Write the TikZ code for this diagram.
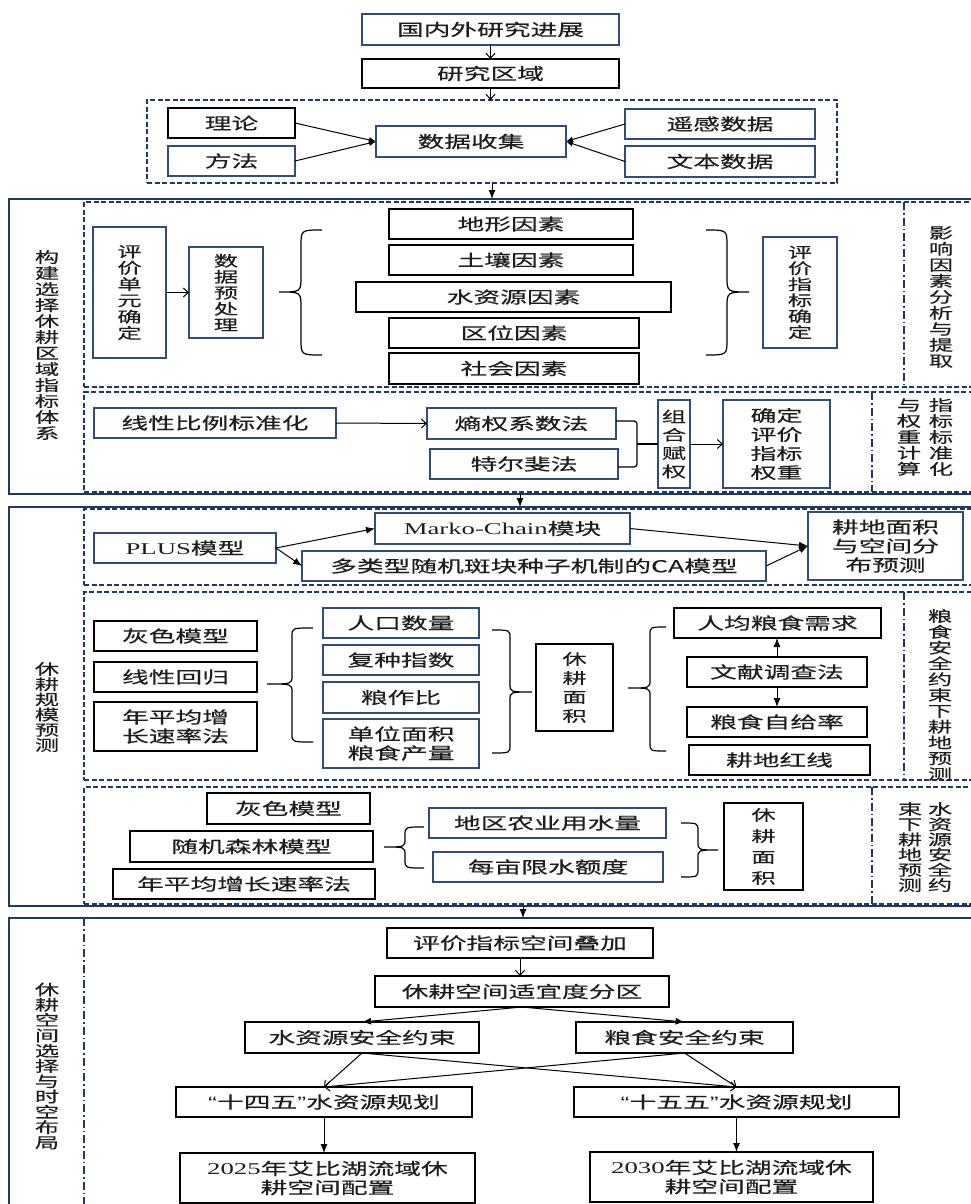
\documentclass[tikz,border=0pt]{standalone}
\usepackage{fontspec}
\setmainfont{Noto Sans CJK SC}[FakeStretch=1.62, FakeBold=0.35]
\newfontfamily\serifx{Liberation Serif}[FakeStretch=1.62]
\newfontfamily\sansx{Liberation Sans}[FakeStretch=1.62]
\usetikzlibrary{arrows.meta}
\definecolor{navy}{RGB}{31,56,100}
\definecolor{boxblue}{RGB}{50,76,122}
\definecolor{txt}{RGB}{30,30,30}
\newcommand\hf{\fontsize{16.5}{19}\selectfont}
\newcommand\vf[1]{\fontsize{15}{#1}\selectfont}
\newcommand\bx[7][kb]{\node[#1, minimum width={(#5-#3)*1pt}, minimum height={(#6-#4)*1pt}] (#2) at ({(#3+#5)/2},{(#4+#6)/2}) {#7};}
\newcommand\Brc[7]{\draw[brc] (#3,#4) .. controls (#2,#4) .. (#2,{#4+#7}) -- (#2,{#5-#7}) .. controls (#2,#5) .. (#1,#5) .. controls (#2,#5) .. (#2,{#5+#7}) -- (#2,{#6-#7}) .. controls (#2,#6) .. (#3,#6);}
\tikzset{
 base/.style={draw, line width=1.3pt, inner sep=0pt, outer sep=0pt, align=center, font=\hf, text=txt},
 bb/.style={base, draw=boxblue},
 kb/.style={base, draw=black},
 frm/.style={draw=navy, line width=1.8pt, inner sep=0pt, outer sep=0pt},
 dshbox/.style={draw=navy, line width=1.3pt, dash pattern=on 5pt off 2.5pt, inner sep=0pt, outer sep=0pt},
 ddot/.style={draw=navy, line width=1.3pt, dash pattern=on 8pt off 3pt on 1.5pt off 3pt},
 lbl/.style={inner sep=0pt, align=center, text=txt},
 arr/.style={-{Latex[length=9pt,width=7pt]}, line width=1pt},
 sarr/.style={-{Latex[length=7pt,width=6pt]}, line width=1pt},
 oarr/.style={-{Straight Barb[length=5pt,width=9pt]}, line width=1pt},
 brc/.style={line width=1.2pt, draw=black},
}
\begin{document}
\begin{tikzpicture}[x=1pt,y=-1pt]
\useasboundingbox (0,0) rectangle (971,1204);
\clip (0,0) rectangle (971,1204);
\fill[white] (0,0) rectangle (971,1204);

% ---------- top ----------
\bx[bb]{n1}{362}{14}{619}{45}{国内外研究进展}
\bx[kb]{n2}{362}{59}{619}{88}{研究区域}
\bx[dshbox]{d0}{147}{100}{837}{183}{}
\bx[kb]{ll}{168}{108}{295}{138}{理论}
\bx[bb]{ff}{168}{146}{295}{176}{方法}
\bx[bb]{sj}{376}{126}{566}{157}{数据收集}
\bx[bb]{yg}{625}{109}{815}{139}{遥感数据}
\bx[bb]{wb}{625}{146}{815}{177}{文本数据}
\draw[oarr] (n1) -- (n2);
\draw[oarr] (n2.south) -- (n2.south |- d0.north);
\draw[sarr] (ll.east) -- (sj.west);
\draw[sarr] (ff.east) -- (sj.west);
\draw[sarr] (yg.west) -- (sj.east);
\draw[sarr] (wb.west) -- (sj.east);

% ---------- section 1 ----------
\bx[frm]{f1}{9}{199}{985}{494}{}
\bx[dshbox]{s1a}{84}{202}{985}{387}{}
\bx[dshbox]{s1b}{84}{392}{985}{492}{}
\draw[ddot] (904,202) -- (904,387);
\draw[ddot] (872,392) -- (872,492);
\draw[arr] (d0.south) -- (d0.south |- f1.north);
\node[lbl, font=\vf{16}] (lab1) at (47,345) {构\\建\\选\\择\\休\\耕\\区\\域\\指\\标\\体\\系};
\bx[bb,font=\vf{16.3}]{pjdy}{93}{227}{166}{358}{评\\价\\单\\元\\确\\定}
\bx[bb,font=\vf{16}]{sjycl}{189}{247}{263}{338}{数\\据\\预\\处\\理}
\draw[oarr] (pjdy.east) -- (sjycl.west);
\Brc{279}{301}{322}{230}{292}{355}{16}
\bx[kb]{dx}{389}{209}{633}{239}{地形因素}
\bx[kb]{tr}{389}{245}{633}{275}{土壤因素}
\bx[kb]{szy}{356}{282}{671}{312}{水资源因素}
\bx[kb]{qw}{389}{318}{639}{348}{区位因素}
\bx[kb]{sh}{389}{353}{639}{384}{社会因素}
\Brc{749}{727}{706}{230}{292}{355}{16}
\bx[bb,font=\vf{16}]{pjzb}{763}{237}{837}{348}{评\\价\\指\\标\\确\\定}
\node[lbl, font=\vf{16}] (lab1a) at (941,297) {影\\响\\因\\素\\分\\析\\与\\提\\取};

\bx[bb]{xx}{94}{408}{336}{438}{线性比例标准化}
\bx[bb]{sq}{427}{408}{616}{439}{熵权系数法}
\bx[bb]{te}{430}{449}{618}{479}{特尔斐法}
\draw[oarr] (xx.east) -- (sq.west);
\draw[brc, rounded corners=3pt] (sq.east |- 0,421) -- (637,421) -- (637,467) -- (te.east |- 0,467);
\bx[bb,font=\vf{18.3}]{zh}{658}{400}{690}{488}{组\\合\\赋\\权}
\coordinate (bk) at (637,444);
\draw[brc] (bk) -- (zh.west);
\bx[bb,font=\fontsize{16}{19}\selectfont]{qd}{723}{400}{830}{488}{确定\\评价\\指标\\权重}
\draw[oarr] (zh.east) -- (qd.west);
\node[lbl, font=\vf{16}] (lab1b) at (941,437) {指\\标\\标\\准\\化};
\node[lbl, font=\vf{16}] (lab1c) at (909,437) {与\\权\\重\\计\\算};

% ---------- section 2 ----------
\bx[frm]{f2}{9}{507}{985}{906}{}
\bx[dshbox]{s2a}{84}{509}{985}{585}{}
\bx[dshbox]{s2b}{84}{592}{985}{780}{}
\bx[dshbox]{s2c}{84}{787}{985}{904}{}
\draw[ddot] (904,592) -- (904,780);
\draw[ddot] (872,787) -- (872,904);
\coordinate (c12) at (520,494);
\draw[arr] (c12) -- (c12 |- f2.north);
\node[lbl, font=\vf{15.2}] (lab2) at (47,707) {休\\耕\\规\\模\\预\\测};

\bx[bb]{plus}{94}{533}{276}{563}{{\serifx PLUS}模型}
\bx[bb]{mk}{375}{513}{630}{544}{{\serifx Marko-Chain}模块}
\bx[bb]{ca}{302}{551}{766}{581}{多类型随机斑块种子机制的CA模型}
\bx[bb]{gd}{808}{512}{963}{580}{耕地面积\\与空间分\\布预测}
\draw[arr] (plus.east) -- (mk.west);
\draw[arr] (plus.east) -- (ca.west);
\draw[arr] (mk.east) -- (gd.west);
\draw[arr] (ca.east) -- (gd.west);

\bx[kb]{hs1}{94}{621}{257}{651}{灰色模型}
\bx[kb]{xxhg}{94}{662}{257}{692}{线性回归}
\bx[kb]{nzp}{94}{702}{257}{751}{年平均增\\长速率法}
\Brc{267}{292}{313}{628}{684}{742}{8}
\bx[bb]{rk}{323}{608}{479}{638}{人口数量}
\bx[bb]{fz}{323}{645}{479}{675}{复种指数}
\bx[bb]{lzb}{323}{682}{479}{713}{粮作比}
\bx[bb]{dw}{323}{719}{479}{768}{单位面积\\粮食产量}
\Brc{532}{510}{492}{630}{692}{753}{8}
\bx[kb,font=\vf{19}]{xg1}{536}{644}{613}{731}{休\\耕\\面\\积}
\Brc{628}{650}{666}{627}{688}{751}{8}
\bx[kb]{rj}{674}{608}{881}{638}{人均粮食需求}
\bx[kb]{wx}{687}{657}{867}{687}{文献调查法}
\bx[kb]{zg}{687}{707}{867}{737}{粮食自给率}
\bx[kb]{hx}{689}{745}{870}{775}{耕地红线}
\draw[arr] (wx.north) -- (wx.north |- rj.south);
\draw[arr] (wx.south) -- (wx.south |- zg.north);
\node[lbl, font=\vf{15.8}] (lab2b) at (940,695) {粮\\食\\安\\全\\约\\束\\下\\耕\\地\\预\\测};

\bx[kb]{hs2}{207}{793}{370}{824}{灰色模型}
\bx[kb]{sjsl}{130}{831}{373}{862}{随机森林模型}
\bx[kb]{nzp2}{113}{869}{375}{899}{年平均增长速率法}
\Brc{384}{405}{424}{827}{847}{868}{8}
\bx[bb]{ny}{429}{808}{666}{838}{地区农业用水量}
\bx[bb]{mm}{433}{852}{663}{882}{每亩限水额度}
\Brc{718}{698}{681}{823}{850}{877}{8}
\bx[kb,font=\vf{21}]{xg2}{724}{803}{803}{890}{休\\耕\\面\\积}
\node[lbl, font=\vf{15.2}] (lab2c) at (940,847) {水\\资\\源\\安\\全\\约};
\node[lbl, font=\vf{15.2}] (lab2d) at (910,847) {束\\下\\耕\\地\\预\\测};

% ---------- section 3 ----------
\bx[frm]{f3}{9}{918}{985}{1225}{}
\draw[ddot] (84,918) -- (84,1204);
\coordinate (c23) at (523,906);
\draw[arr] (c23) -- (c23 |- f3.north);
\node[lbl, font=\vf{15.3}] (lab3) at (47,1066) {休\\耕\\空\\间\\选\\择\\与\\时\\空\\布\\局};
\bx[kb]{pj}{387}{928}{653}{958}{评价指标空间叠加}
\bx[kb]{xgkj}{375}{976}{669}{1007}{休耕空间适宜度分区}
\draw[oarr] (pj.south) -- (pj.south |- xgkj.north);
\bx[kb]{szyy}{245}{1022}{479}{1053}{水资源安全约束}
\bx[kb]{lsyy}{576}{1022}{793}{1053}{粮食安全约束}
\draw[arr] (xgkj.south) -- (szyy.north);
\draw[arr] (xgkj.south) -- (lsyy.north);
\bx[kb]{sw}{176}{1087}{472}{1117}{{\sansx “}十四五{\sansx ”}水资源规划}
\bx[kb]{ww}{574}{1087}{899}{1117}{{\sansx “}十五五{\sansx ”}水资源规划}
\draw[oarr] (szyy.south) -- (sw.north);
\draw[oarr] (szyy.south) -- (ww.north);
\draw[oarr] (lsyy.south) -- (sw.north);
\draw[oarr] (lsyy.south) -- (ww.north);
\bx[kb]{y25}{180}{1153}{475}{1203}{{\serifx 2025}年艾比湖流域休\\耕空间配置}
\bx[kb]{y30}{590}{1152}{873}{1202}{{\serifx 2030}年艾比湖流域休\\耕空间配置}
\draw[arr] (sw.south) -- (sw.south |- y25.north);
\draw[arr] (ww.south) -- (ww.south |- y30.north);
\end{tikzpicture}
\end{document}
